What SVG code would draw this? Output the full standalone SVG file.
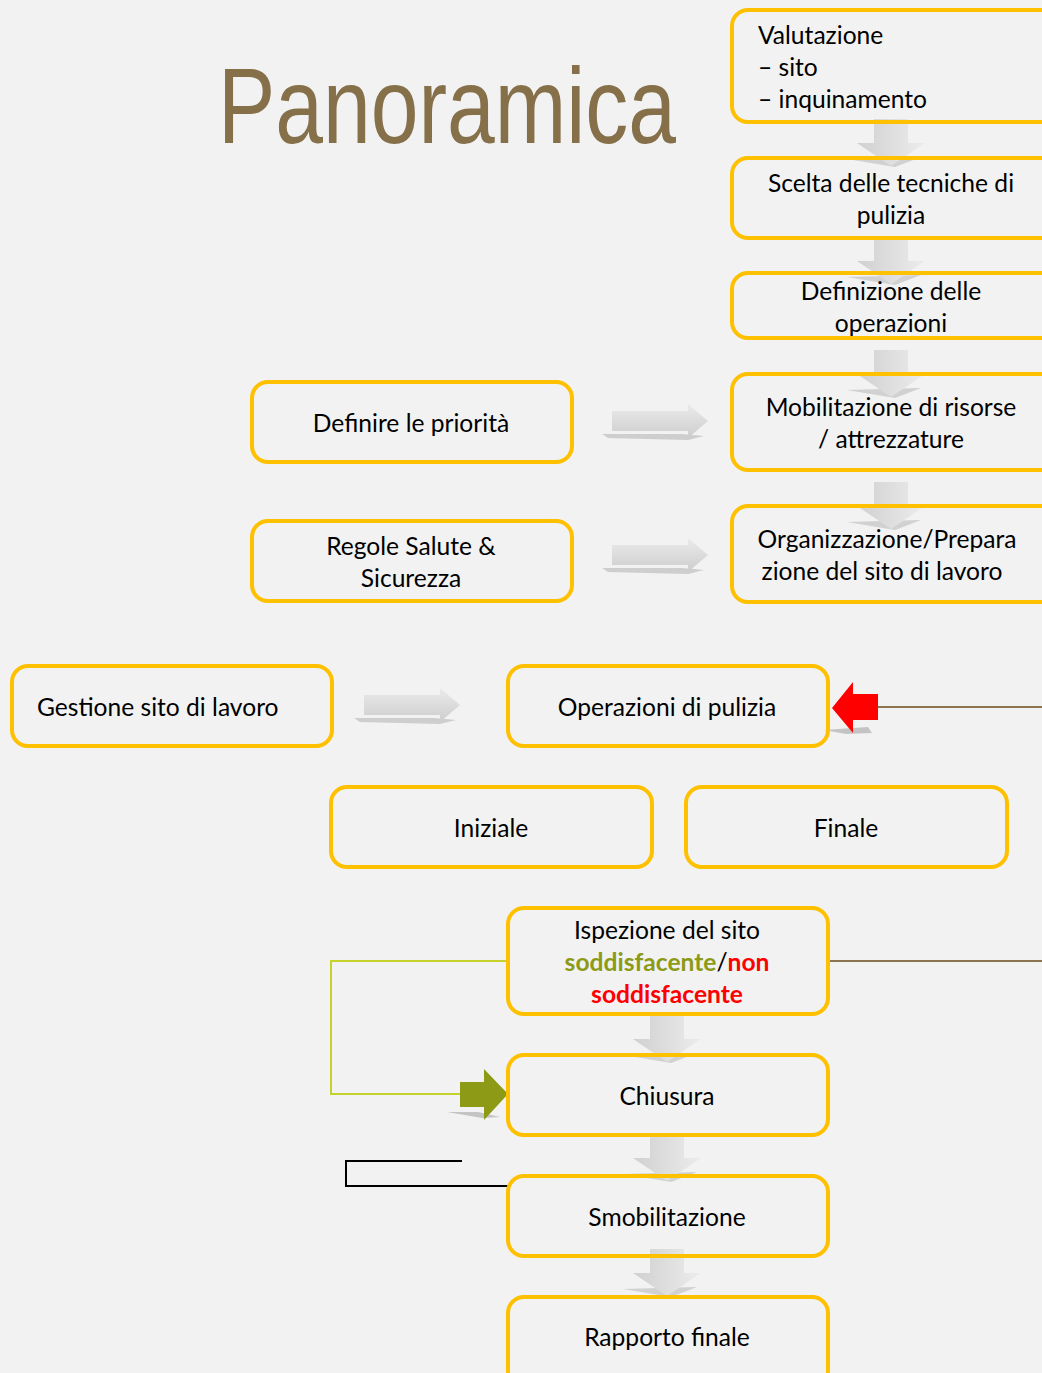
<svg xmlns="http://www.w3.org/2000/svg" width="1042" height="1373" viewBox="0 0 1042 1373">
<style>
.box{fill:none;stroke:#ffc000;stroke-width:4}
.t{font-family:Lato,"Open Sans","Liberation Sans",sans-serif;font-size:24.6px;fill:#000}
.c{text-anchor:middle}
.title{font-family:"Liberation Sans Narrow","Liberation Sans",sans-serif;font-size:108px;fill:#85704a}
.brown{stroke:#8b7650;stroke-width:2;fill:none}
.ok{fill:#8c9a16;font-weight:bold}
.ko{fill:#ff0000;font-weight:bold}
</style>
<defs>
<linearGradient id="gd" x1="0" y1="0" x2="1" y2="0"><stop offset="0" stop-color="#d0d0d0"/><stop offset="1" stop-color="#ececec"/></linearGradient>
<linearGradient id="gr" x1="0" y1="0" x2="0" y2="1"><stop offset="0" stop-color="#ebebeb"/><stop offset="1" stop-color="#cdcdcd"/></linearGradient>
<g id="down">
<path d="M-44,40 L30,38 L4,48 Z" fill="#b0b0b0" opacity="0.5"/>
<path d="M-17,0 H17 V24 H34 L0,47 L-34,24 H-17 Z" fill="url(#gd)"/>
</g>
<g id="right">
<path d="M-10,13 L70,13 L92,15 L76,19 L-4,17 Z" fill="#c4c4c4" opacity="0.8"/>
<path d="M0,-10 H76 V-17 L96,0 L76,17 V10 H0 Z" fill="url(#gr)"/>
</g>
</defs>
<rect width="1042" height="1373" fill="#f2f2f2"/>
<text class="title" x="218" y="143" textLength="458" lengthAdjust="spacingAndGlyphs">Panoramica</text>

<g id="connectors">
<use href="#down" x="891" y="119"/>
<use href="#down" x="891" y="237"/>
<use href="#down" x="891" y="350"/>
<use href="#down" x="891" y="482"/>
<use href="#down" x="667" y="1015"/>
<use href="#down" x="667" y="1134"/>
<use href="#down" x="667" y="1249"/>
<use href="#right" x="612" y="421"/>
<use href="#right" x="612" y="555"/>
<use href="#right" x="364" y="705"/>
<line class="brown" x1="878" y1="707" x2="1042" y2="707"/>
<path d="M824,730 L868,727 L872,733 L846,734 Z" fill="#b0b0b0" opacity="0.7"/>
<path d="M832,708 L853,682 V694 H878 V720 H853 V733 Z" fill="#ff0000"/>
<line class="brown" x1="828" y1="961" x2="1042" y2="961"/>
<path d="M508,961 H331 V1094 H460" fill="none" stroke="#c4d22a" stroke-width="2"/>
<path d="M447,1112 L478,1112 L500,1117 L482,1118 Z" fill="#b0b0b0" opacity="0.7"/>
<path d="M460,1082 H484 V1069 L508,1094 L484,1120 V1107 H460 Z" fill="#8c9a16"/>
<path d="M462,1161 H346 V1186 H508" fill="none" stroke="#000" stroke-width="2"/>
</g>

<g id="n1"><rect class="box" x="732" y="10" width="330" height="112" rx="16"/>
<text class="t" x="758" y="44">Valutazione<tspan x="758" dy="32">– sito</tspan><tspan x="758" dy="32">– inquinamento</tspan></text></g>
<g id="n2"><rect class="box" x="732" y="158" width="330" height="80" rx="16"/>
<text class="t c" x="891" y="192">Scelta delle tecniche di</text><text class="t c" x="891" y="224">pulizia</text></g>
<g id="n3"><rect class="box" x="732" y="273" width="330" height="65" rx="16"/>
<text class="t c" x="891" y="300">Definizione delle</text><text class="t c" x="891" y="332">operazioni</text></g>
<g id="n4"><rect class="box" x="732" y="374" width="330" height="96" rx="16"/>
<text class="t c" x="891" y="416">Mobilitazione di risorse</text><text class="t c" x="891" y="448">/ attrezzature</text></g>
<g id="n5"><rect class="box" x="732" y="506" width="330" height="96" rx="16"/>
<text class="t c" x="887" y="548">Organizzazione/Prepara</text><text class="t c" x="882" y="580">zione del sito di  lavoro</text></g>
<g id="n6"><rect class="box" x="252" y="382" width="320" height="80" rx="16"/>
<text class="t c" x="411" y="432">Definire le priorità</text></g>
<g id="n7"><rect class="box" x="252" y="521" width="320" height="80" rx="16"/>
<text class="t c" x="411" y="555">Regole Salute &amp;</text><text class="t c" x="411" y="587">Sicurezza</text></g>
<g id="n8"><rect class="box" x="12" y="666" width="320" height="80" rx="16"/>
<text class="t" x="37" y="716">Gestione sito di lavoro</text></g>
<g id="n9"><rect class="box" x="508" y="666" width="320" height="80" rx="16"/>
<text class="t c" x="667" y="716">Operazioni di pulizia</text></g>
<g id="n10"><rect class="box" x="331" y="787" width="321" height="80" rx="16"/>
<text class="t c" x="491" y="837">Iniziale</text></g>
<g id="n11"><rect class="box" x="686" y="787" width="321" height="80" rx="16"/>
<text class="t c" x="846" y="837">Finale</text></g>
<g id="n12"><rect class="box" x="508" y="908" width="320" height="106" rx="16"/>
<text class="t c" x="667" y="939">Ispezione del sito</text>
<text class="t c" x="667" y="971"><tspan class="ok">soddisfacente</tspan>/<tspan class="ko">non</tspan></text>
<text class="t c" x="667" y="1003"><tspan class="ko">soddisfacente</tspan></text></g>
<g id="n13"><rect class="box" x="508" y="1055" width="320" height="80" rx="16"/>
<text class="t c" x="667" y="1105">Chiusura</text></g>
<g id="n14"><rect class="box" x="508" y="1176" width="320" height="80" rx="16"/>
<text class="t c" x="667" y="1226">Smobilitazione</text></g>
<g id="n15"><rect class="box" x="508" y="1297" width="320" height="90" rx="16"/>
<text class="t c" x="667" y="1346">Rapporto finale</text></g>
</svg>
